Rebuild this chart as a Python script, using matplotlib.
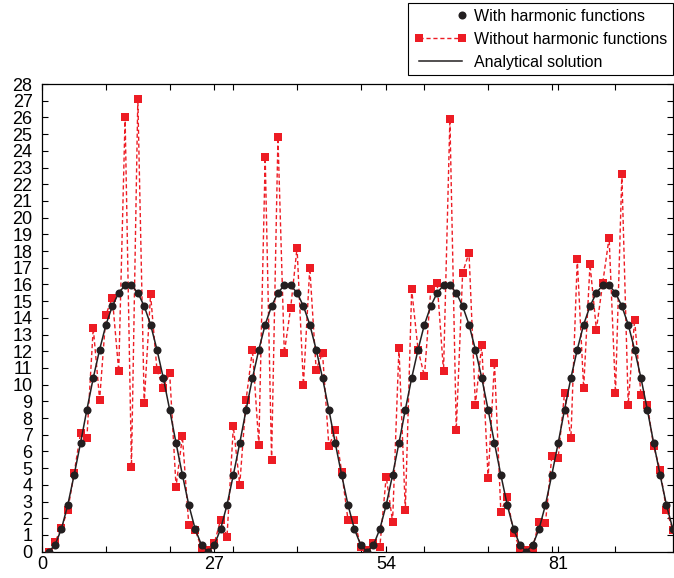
import matplotlib
matplotlib.use("Agg")
import matplotlib.pyplot as plt
from matplotlib.lines import Line2D
from matplotlib.legend_handler import HandlerLine2D

plt.rcParams['font.family'] = ['Liberation Sans', 'DejaVu Sans']

# sample positions (one point per unit)
x = list(range(1, 101))

# black circles
with_harmonic = [
    0.0, 0.4, 1.36, 2.8, 4.6, 6.5, 8.5, 10.4, 12.1, 13.6, 14.7, 15.5, 15.95,
    15.95, 15.5, 14.7, 13.6, 12.1, 10.4, 8.5, 6.5, 4.6, 2.8, 1.36, 0.4,
    0.0, 0.4, 1.36, 2.8, 4.6, 6.5, 8.5, 10.4, 12.1, 13.6, 14.7, 15.5, 15.95,
    15.95, 15.5, 14.7, 13.6, 12.1, 10.4, 8.5, 6.5, 4.6, 2.8, 1.36, 0.4,
    0.0, 0.4, 1.36, 2.8, 4.6, 6.5, 8.5, 10.4, 12.1, 13.6, 14.7, 15.5, 15.95,
    15.95, 15.5, 14.7, 13.6, 12.1, 10.4, 8.5, 6.5, 4.6, 2.8, 1.36, 0.4,
    0.0, 0.4, 1.36, 2.8, 4.6, 6.5, 8.5, 10.4, 12.1, 13.6, 14.7, 15.5, 15.95,
    15.95, 15.5, 14.7, 13.6, 12.1, 10.4, 8.5, 6.5, 4.6, 2.8, 1.36, 0.4,
]

# red squares
without_harmonic = [
    0.0, 0.6, 1.4, 2.5, 4.7, 7.1, 6.8, 13.4, 9.1, 14.2,
    15.2, 10.8, 26.0, 5.1, 27.1, 8.9, 15.4, 10.9, 9.8, 10.7,
    3.9, 6.9, 1.6, 1.3, 0.24, 0.1, 0.5, 1.9, 0.9, 7.5,
    4.0, 9.1, 12.1, 6.4, 23.6, 5.5, 24.8, 11.9, 14.6, 18.2,
    10.0, 17.0, 10.9, 11.9, 6.3, 7.3, 4.8, 1.9, 1.9, 0.3,
    0.1, 0.5, 0.3, 4.5, 1.8, 12.2, 2.5, 15.7, 12.1, 10.5,
    15.7, 16.1, 10.8, 25.9, 7.3, 16.7, 17.9, 8.8, 12.4, 4.4,
    11.3, 2.4, 3.3, 1.1, 0.24, 0.1, 0.24, 1.8, 1.7, 5.7,
    5.6, 9.5, 6.8, 17.5, 9.8, 17.2, 13.3, 16.1, 18.8, 9.5,
    22.6, 8.8, 13.9, 9.4, 8.8, 6.3, 4.9, 2.5, 1.3, 0.3,
]

# analytical curve through the same readings
analytical = list(with_harmonic)

x_ticks = [0, 27, 54, 81]
x_minor_ticks = [10, 20, 30, 40, 50, 60, 70, 80, 90]
y_ticks = list(range(0, 29))

red = '#ED1C24'
dark = '#231F20'

fig = plt.figure(figsize=(6.74, 5.78), dpi=100)
ax = fig.add_axes([42.3 / 674, 26.3 / 578, 630.5 / 674, 467.7 / 578])

l_red, = ax.plot(x, without_harmonic, color=red, linestyle=(0, (3, 2)), linewidth=1.0,
                 marker='s', markersize=5.5, markeredgewidth=0, zorder=2)
l_ana, = ax.plot(x, analytical, color=dark, linewidth=1.1, zorder=3)
l_dot, = ax.plot(x, with_harmonic, color=dark, linestyle='none', marker='o',
                 markersize=5.8, markeredgewidth=0, zorder=4)

ax.set_xlim(0, 99)
ax.set_ylim(0, 28)
ax.set_xticks(x_ticks)
ax.set_xticks(x_minor_ticks, minor=True)
ax.set_yticks(y_ticks)
ax.tick_params(axis='both', which='both', direction='in', length=4, width=0.8,
               top=True, right=True, labelsize=13, colors='black')
ax.tick_params(axis='x', pad=3)
ax.tick_params(axis='y', pad=7)
for s in ax.spines.values():
    s.set_linewidth(0.9)


def right_marker_only(legend_handle, orig_handle):
    # circle only at the right end of the handle, like the original
    legend_handle.update_from(orig_handle)
    legend_handle.set_markevery([1])


leg = fig.legend([l_dot, l_red, l_ana],
                 ['With harmonic functions', 'Without harmonic functions', 'Analytical solution'],
                 handler_map={l_dot: HandlerLine2D(update_func=right_marker_only)},
                 loc='upper right', bbox_to_anchor=(672.5 / 674, 1 - 3 / 578),
                 bbox_transform=fig.transFigure, borderaxespad=0, numpoints=2,
                 fontsize=11.5, frameon=True, fancybox=False, edgecolor='black',
                 framealpha=1, handlelength=3.3, handletextpad=0.45, labelspacing=0.5,
                 borderpad=0.35)
leg.get_frame().set_linewidth(0.8)

fig.savefig('out.png', dpi=100)
